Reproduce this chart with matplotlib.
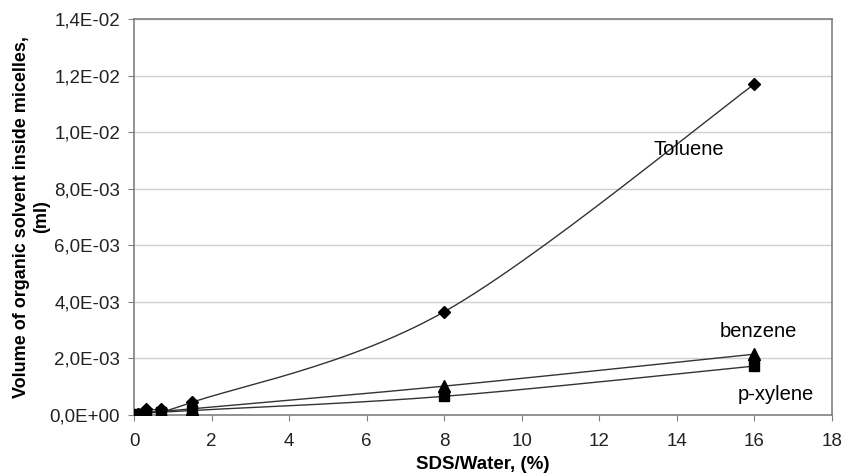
import numpy as np
import matplotlib
matplotlib.use("Agg")
import matplotlib.pyplot as plt
from matplotlib.ticker import FuncFormatter

# SDS/Water (%) and volumes (ml)
sds = [0, 0.1, 0.3, 0.7, 1.5, 8, 16]
toluene = [0.0, 5e-5, 2.0e-4, 2.0e-4, 4.5e-4, 3.65e-3, 1.17e-2]
benzene = [0.0, 3e-5, 1.0e-4, 1.3e-4, 2.2e-4, 1.02e-3, 2.15e-3]
pxylene = [0.0, 2e-5, 6e-5, 1.0e-4, 1.6e-4, 6.6e-4, 1.73e-3]

plt.rcParams["font.family"] = ["Liberation Sans", "DejaVu Sans"]


def smooth(x, y, n=30):
    # Catmull-Rom style smoothing like Excel's smoothed lines
    x = np.asarray(x, float)
    y = np.asarray(y, float)
    px, py = [], []
    for i in range(len(x) - 1):
        x0, y0 = (x[i - 1], y[i - 1]) if i > 0 else (x[i], y[i])
        x3, y3 = (x[i + 2], y[i + 2]) if i + 2 < len(x) else (x[i + 1], y[i + 1])
        x1, y1, x2, y2 = x[i], y[i], x[i + 1], y[i + 1]
        c1x, c1y = x1 + (x2 - x0) / 6, y1 + (y2 - y0) / 6
        c2x, c2y = x2 - (x3 - x1) / 6, y2 - (y3 - y1) / 6
        t = np.linspace(0, 1, n)
        bx = (1 - t) ** 3 * x1 + 3 * (1 - t) ** 2 * t * c1x + 3 * (1 - t) * t ** 2 * c2x + t ** 3 * x2
        by = (1 - t) ** 3 * y1 + 3 * (1 - t) ** 2 * t * c1y + 3 * (1 - t) * t ** 2 * c2y + t ** 3 * y2
        px.extend(bx)
        py.extend(by)
    return px, py


fig = plt.figure(figsize=(8.43, 4.74), dpi=100)
ax = fig.add_axes([0.159, 0.1245, 0.828, 0.8355])

for ys, mk, ms in [(toluene, "D", 6), (benzene, "^", 8), (pxylene, "s", 7)]:
    sx, sy = smooth(sds, ys)
    ax.plot(sx, sy, color="#333333", lw=1.0, zorder=2)
    ax.plot(sds, ys, ls="none", marker=mk, ms=ms, color="black", zorder=3)

ax.set_xlim(0, 18)
ax.set_ylim(0, 0.014)
ax.set_xticks(np.arange(0, 19, 2))
ax.set_yticks(np.arange(0, 0.0141, 0.002))


def sci_comma(v, pos):
    s = "%.1E" % v
    return s.replace(".", ",")


ax.yaxis.set_major_formatter(FuncFormatter(sci_comma))
ax.grid(axis="y", color="#d0d0d0", lw=1.0)
ax.set_axisbelow(True)
for sp in ax.spines.values():
    sp.set_color("#808080")
    sp.set_linewidth(1.2)
ax.tick_params(colors="#808080", labelcolor="#222222", labelsize=13.5, length=4)
ax.tick_params(axis="x", pad=9)
ax.tick_params(axis="y", pad=6)

ax.set_xlabel("SDS/Water, (%)", fontsize=13.5, fontweight="bold", labelpad=4)
ax.set_ylabel("Volume of organic solvent inside micelles,\n(ml)", fontsize=13,
              fontweight="bold", labelpad=0)

ax.text(14.3, 9.4e-3, "Toluene", fontsize=14.5, ha="center", va="center")
ax.text(16.1, 2.95e-3, "benzene", fontsize=14.5, ha="center", va="center")
ax.text(16.55, 0.72e-3, "p-xylene", fontsize=14.5, ha="center", va="center")

fig.savefig("out.png", dpi=100)
